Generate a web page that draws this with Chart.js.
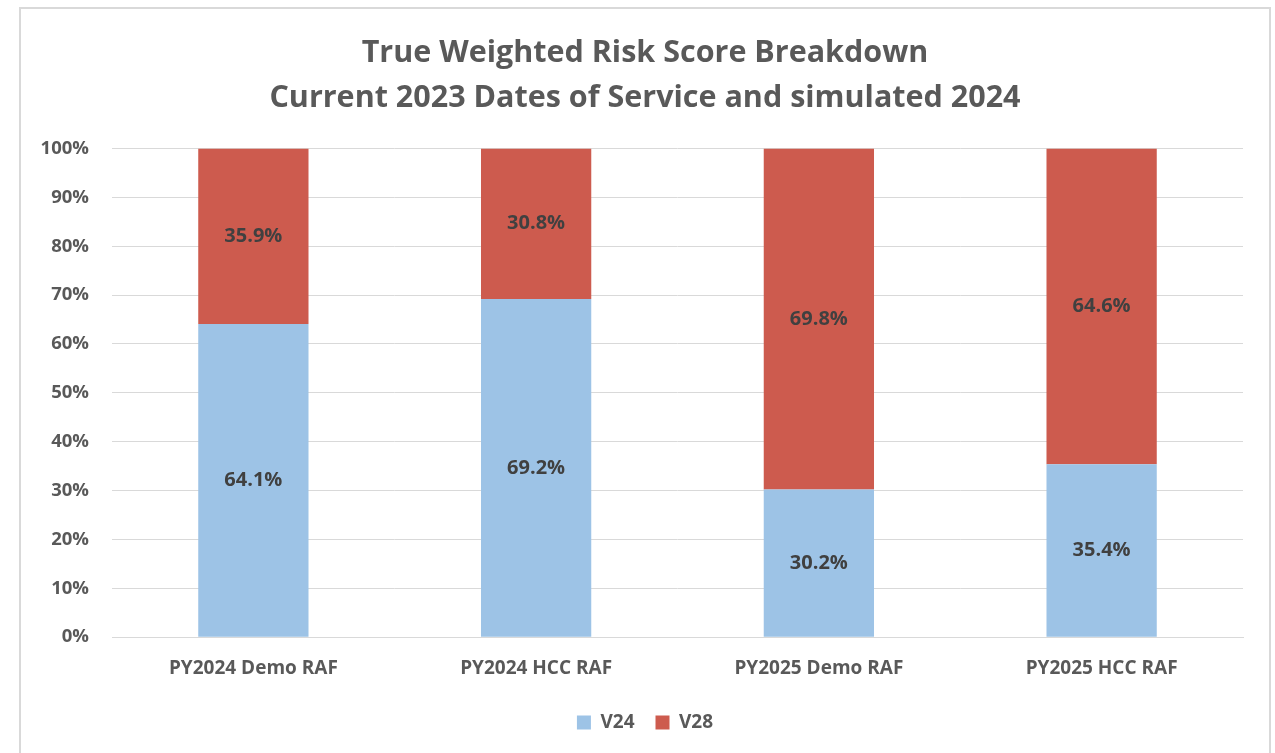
<!DOCTYPE html>
<html>
<head>
<meta charset="utf-8">
<script src="https://cdn.jsdelivr.net/npm/chart.js@4.4.1/dist/chart.umd.min.js"></script>
<style>
  html, body { margin: 0; padding: 0; background: #fff; }
  .frame {
    position: absolute;
    left: 19px;
    top: 7px;
    width: 1248px;
    height: 760px;
    border: 2px solid #d9d9d9;
    border-bottom: none;
  }
  .chart-wrap { position: absolute; left: 0; top: 0; width: 1248px; height: 744px; }
</style>
</head>
<body>
<div class="frame">
  <div class="chart-wrap"><canvas id="riskChart"></canvas></div>
</div>
<script>
const categories = ['PY2024 Demo RAF', 'PY2024 HCC RAF', 'PY2025 Demo RAF', 'PY2025 HCC RAF'];
const v24Values = [64.1, 69.2, 30.2, 35.4];
const v28Values = [35.9, 30.8, 69.8, 64.6];
const yTicks = [0, 10, 20, 30, 40, 50, 60, 70, 80, 90, 100];
const titleLines = ['True Weighted Risk Score Breakdown', 'Current 2023 Dates of Service and simulated 2024'];

const FONT = "'Open Sans', 'Noto Sans', sans-serif";

// labels centred inside each stacked segment
const segmentLabels = {
  id: 'segmentLabels',
  afterDatasetsDraw(chart) {
    const ctx = chart.ctx;
    ctx.save();
    ctx.font = `bold 20px ${FONT}`;
    ctx.fillStyle = '#404040';
    ctx.textAlign = 'center';
    ctx.textBaseline = 'middle';
    chart.data.datasets.forEach((ds, i) => {
      chart.getDatasetMeta(i).data.forEach((bar, j) => {
        const { x, y, base } = bar.getProps(['x', 'y', 'base'], true);
        ctx.fillText(`${ds.data[j].toFixed(1)}%`, x, (y + base) / 2);
      });
    });
    ctx.restore();
  },
};

new Chart(document.getElementById('riskChart'), {
  type: 'bar',
  data: {
    labels: categories,
    datasets: [
      { label: 'V24', data: v24Values, backgroundColor: '#9dc3e6' },
      { label: 'V28', data: v28Values, backgroundColor: '#cd5b4e' },
    ],
  },
  options: {
    responsive: true,
    maintainAspectRatio: false,
    animation: false,
    categoryPercentage: 1,
    barPercentage: 0.39,
    layout: { padding: { left: 0, right: 0, top: 0, bottom: 11 } },
    plugins: {
      title: {
        display: true,
        text: titleLines,
        color: '#595959',
        font: { family: FONT, size: 30.5, weight: 'bold', lineHeight: 1.5 },
        padding: { top: 21, bottom: 27 },
      },
      legend: {
        position: 'bottom',
        labels: {
          color: '#595959',
          font: { family: FONT, size: 19, weight: 'bold' },
          boxWidth: 14,
          boxHeight: 14,
          padding: 21,
        },
      },
      tooltip: { enabled: false },
    },
    scales: {
      x: {
        stacked: true,
        grid: { display: false },
        border: { color: '#d9d9d9' },
        ticks: {
          color: '#595959',
          font: { family: FONT, size: 19, weight: 'bold' },
          padding: 12,
        },
      },
      y: {
        stacked: true,
        min: 0,
        max: 100,
        afterBuildTicks(scale) {
          scale.ticks = yTicks.map((v) => ({ value: v }));
        },
        afterFit(scale) {
          scale.width = 91;
        },
        grid: { color: '#d9d9d9', drawTicks: false },
        border: { display: false },
        ticks: {
          color: '#595959',
          font: { family: FONT, size: 18.5, weight: 'bold' },
          padding: 23,
          callback: (v) => `${v}%`,
        },
      },
      // empty right-hand axis, only keeps the plot clear of the frame
      yRight: {
        position: 'right',
        min: 0,
        max: 100,
        afterFit(scale) {
          scale.width = 26;
        },
        grid: { display: false },
        border: { display: false },
        ticks: { display: false },
      },
    },
  },
  plugins: [segmentLabels],
});
</script>
</body>
</html>
